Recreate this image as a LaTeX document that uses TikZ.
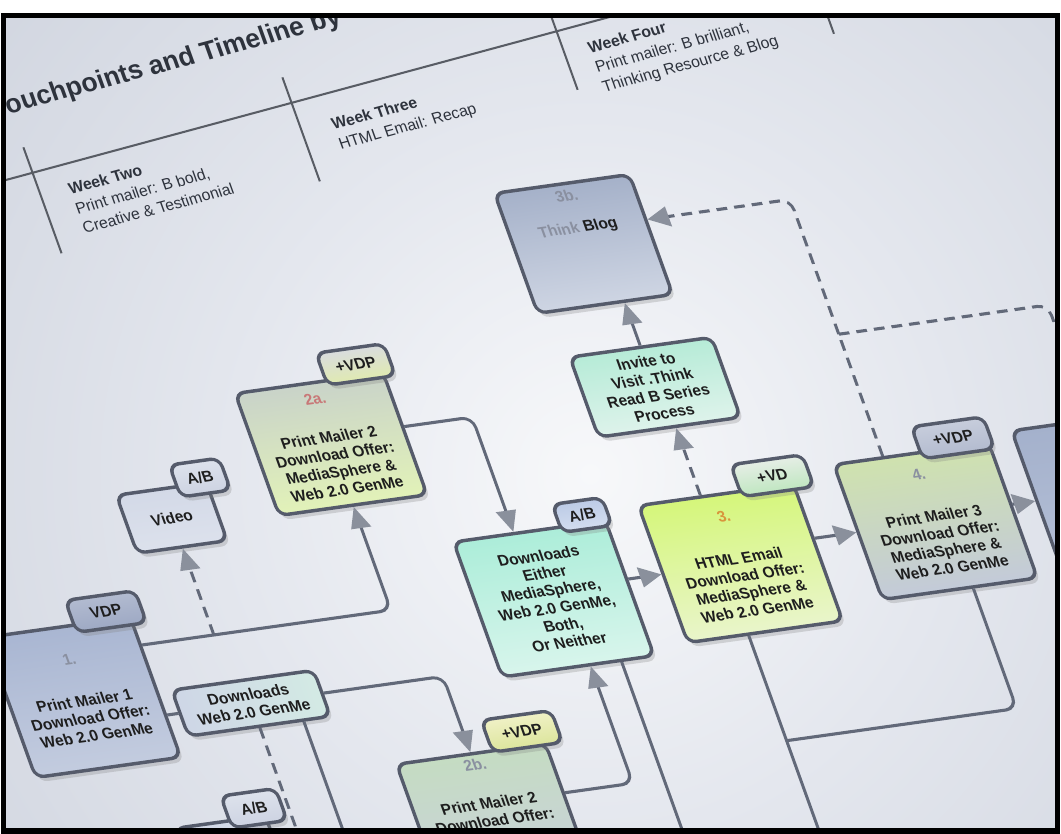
\documentclass[tikz,border=0pt]{standalone}
\usepackage{fontspec}
\setmainfont{Liberation Sans}
\usetikzlibrary{arrows.meta,shadows,calc}

\definecolor{paperA}{HTML}{F7F8FA}
\definecolor{paperB}{HTML}{E4E7EE}
\definecolor{paperC}{HTML}{CCD1DC}
\definecolor{paperD}{HTML}{B9C0D1}
\definecolor{paperE}{HTML}{A4ADC3}
\definecolor{ink}{HTML}{1E1E1E}
\definecolor{weekink}{HTML}{2E333D}
\definecolor{cardline}{HTML}{555B6B}
\definecolor{wire}{HTML}{626979}
\definecolor{tip}{HTML}{8A909C}
\definecolor{numgray}{HTML}{8A90A0}
\definecolor{numred}{HTML}{C87878}
\definecolor{numorange}{HTML}{D8963C}
% card fills
\definecolor{pmOneTop}{HTML}{A9B6D2}
\definecolor{pmOneBot}{HTML}{C3CCDF}
\definecolor{vdpOneTop}{HTML}{B2BBD0}
\definecolor{vdpOneBot}{HTML}{9EA9C4}
\definecolor{videoTop}{HTML}{D3D9E7}
\definecolor{videoBot}{HTML}{DCE1EC}
\definecolor{abTop}{HTML}{DDE2EC}
\definecolor{abBot}{HTML}{CDD3E2}
\definecolor{genLeft}{HTML}{CED6E6}
\definecolor{genRight}{HTML}{D3EAE4}
\definecolor{twoATop}{HTML}{C9D3C9}
\definecolor{twoAMid}{HTML}{D8F09C}
\definecolor{twoABot}{HTML}{E2F2B8}
\definecolor{vdpTwoATop}{HTML}{D9DCDF}
\definecolor{vdpTwoABot}{HTML}{E0EAB0}
\definecolor{eitherTop}{HTML}{ACEDD9}
\definecolor{eitherBot}{HTML}{D8F5EC}
\definecolor{abEitherTop}{HTML}{BCCBE6}
\definecolor{abEitherBot}{HTML}{D3DDEF}
\definecolor{emailTop}{HTML}{D5F67A}
\definecolor{emailBot}{HTML}{E9F5CB}
\definecolor{vdTop}{HTML}{E6EEE6}
\definecolor{vdBot}{HTML}{BFE6C0}
\definecolor{threeTop}{HTML}{CFE2AE}
\definecolor{threeBot}{HTML}{C3CAD9}
\definecolor{vdpThreeTop}{HTML}{C7CDDC}
\definecolor{vdpThreeBot}{HTML}{B3BBCF}
\definecolor{inviteTop}{HTML}{B6EBD7}
\definecolor{inviteBot}{HTML}{DEF3EB}
\definecolor{blogTop}{HTML}{A5B1C9}
\definecolor{blogBot}{HTML}{CED5E3}
\definecolor{farTop}{HTML}{A4B1CC}
\definecolor{farBot}{HTML}{B4BFD6}
\definecolor{twoBTop}{HTML}{C5DCC2}
\definecolor{twoBBot}{HTML}{C9D0DE}
\definecolor{vdpTwoBTop}{HTML}{F0F1C6}
\definecolor{vdpTwoBBot}{HTML}{DCE59C}

\pgfdeclareradialshading{paperglow}{\pgfpointorigin}{color(0bp)=(paperA); color(9bp)=(paperB); color(22bp)=(paperC); color(34bp)=(paperD); color(50bp)=(paperE)}

\tikzset{
  card/.style={draw=cardline, line width=0.95pt, rounded corners=2.5pt, align=center,
    minimum width=1.5cm, minimum height=1.35cm, inner sep=1pt, text=ink,
    font=\bfseries\fontsize{4.3}{4.9}\selectfont,
    drop shadow={opacity=0.28, shadow xshift=0.5pt, shadow yshift=-1.4pt}},
  tab/.style={card, minimum width=0.7cm, minimum height=0.32cm},
  link/.style={draw=wire, line width=0.85pt, rounded corners=3pt},
  flow/.style={link, -{Triangle[length=6pt, width=5.5pt, fill=tip, color=tip]}},
  dashlink/.style={link, dash pattern=on 3pt off 2pt},
  dashflow/.style={flow, dash pattern=on 3pt off 2pt},
  tline/.style={draw=weekink!80, line width=0.55pt},
  headline/.style={inner sep=0pt, text=weekink, font=\bfseries\fontsize{7.2}{8}\selectfont},
  weeknote/.style={anchor=north west, align=left, inner sep=0pt, text=weekink,
    font=\fontsize{4.3}{5.6}\selectfont}
}

\begin{document}
\begin{tikzpicture}
\useasboundingbox (0,0) rectangle (10.61,8.34);
\fill[white] (0,0) rectangle (10.61,8.34);

\begin{scope}
\clip (0.06,0.05) rectangle (10.55,8.16);
\shade[shading=paperglow] (5.9,3.6) circle (10cm);

% timeline across the top
\begin{scope}[transform canvas={cm={1,0.27,-0.36,1,(0,8.34)}}]
  \draw[tline] (-1,-1.655) -- (10,-1.655);
  \foreach \xx/\ya/\yb in {-0.27/1.40/2.46, 2.32/1.40/2.44, 4.97/1.25/2.24, 7.49/1.40/2.36}
    \draw[tline] (\xx,-\ya) -- (\xx,-\yb);
  \node[headline, anchor=base west] (title) at (-0.44,-1.06) {Touchpoints and Timeline by};
  \node[weeknote] (weekTwo) at (0.0,-1.83) {\textbf{Week Two}\\Print mailer: B bold,\\Creative \& Testimonial};
  \node[weeknote] (weekThree) at (2.61,-1.89) {\textbf{Week Three}\\HTML Email: Recap};
  \node[weeknote] (weekFour) at (5.2,-1.82) {\textbf{Week Four}\\Print mailer: B brilliant,\\Thinking Resource \& Blog};
\end{scope}

% touchpoint flow
\begin{scope}[transform canvas={cm={1,0.14,-0.36,1,(0,8.34)}}]
  \node[card, minimum width=1.45cm, minimum height=1.4cm, top color=pmOneTop, bottom color=pmOneBot] (pmOne) at (-1.6,-6.75)
    {{\color{numgray}1.}\\[7pt]Print Mailer 1\\Download Offer:\\Web 2.0 GenMe};
  \node[card, minimum width=1.42cm, minimum height=0.46cm, left color=genLeft, right color=genRight] (dlGenMe) at (-0.02,-7.03)
    {Downloads\\Web 2.0 GenMe};
  \node[card, minimum width=0.9cm, minimum height=0.58cm, top color=videoTop, bottom color=videoBot] (video) at (-0.14,-5.16) {Video};
  \node[card, minimum width=1.48cm, minimum height=1.22cm, top color=twoATop, middle color=twoAMid, bottom color=twoABot] (pmTwoA) at (1.63,-4.67)
    {{\color{numred}2a.}\\[6pt]Print Mailer 2\\Download Offer:\\MediaSphere \&\\Web 2.0 GenMe};
  \node[card, minimum width=1.52cm, top color=eitherTop, bottom color=eitherBot] (dlEither) at (3.22,-6.44)
    {Downloads\\Either\\MediaSphere,\\Web 2.0 GenMe,\\Both,\\Or Neither};
  \node[card, minimum width=1.55cm, minimum height=1.37cm, top color=emailTop, bottom color=emailBot] (htmlEmail) at (5.12,-6.35)
    {{\color{numorange}3.}\\[7pt]HTML Email\\Download Offer:\\MediaSphere \&\\Web 2.0 GenMe};
  \node[card, minimum width=1.55cm, top color=threeTop, bottom color=threeBot] (pmThree) at (7.12,-6.21)
    {{\color{numgray}4.}\\[7pt]Print Mailer 3\\Download Offer:\\MediaSphere \&\\Web 2.0 GenMe};
  \node[card, minimum width=1.42cm, minimum height=0.8cm, top color=inviteTop, bottom color=inviteBot] (invite) at (4.91,-4.56)
    {Invite to\\Visit .Think\\Read B Series\\Process};
  \node[card, minimum width=1.35cm, minimum height=1.2cm, top color=blogTop, bottom color=blogBot] (blog) at (4.72,-3.1)
    {{\color{numgray}3b.}\\[4pt]{\color{numgray}Think} Blog\\[12pt]\strut};
  \node[card, minimum width=1.55cm, minimum height=1.4cm, top color=farTop, bottom color=farBot] (farBox) at (8.93,-6.15) {};
  \node[card, minimum width=1.49cm, top color=twoBTop, bottom color=twoBBot] (pmTwoB) at (1.9,-8.48)
    {{\color{numgray}2b.}\\[6pt]Print Mailer 2\\Download Offer:\\[10pt]\strut};
  \node[card, minimum width=0.9cm, minimum height=0.58cm, top color=videoTop, bottom color=videoBot] (abBox) at (-0.72,-8.41) {};

  % tabs on the cards
  \node[tab, top color=vdpOneTop, bottom color=vdpOneBot] (vdpOne) at ([shift={(-0.23,0.07)}]pmOne.north east) {VDP};
  \node[tab, minimum width=0.5cm, top color=abTop, bottom color=abBot] (abVideo) at ([shift={(-0.06,0.04)}]video.north east) {A/B};
  \node[tab, minimum width=0.68cm, top color=vdpTwoATop, bottom color=vdpTwoABot] (vdpTwoA) at ([shift={(-0.25,0.1)}]pmTwoA.north east) {+VDP};
  \node[tab, minimum width=0.5cm, minimum height=0.28cm, top color=abEitherTop, bottom color=abEitherBot] (abEither) at ([shift={(-0.22,0.07)}]dlEither.north east) {A/B};
  \node[tab, minimum width=0.72cm, top color=vdTop, bottom color=vdBot] (vdEmail) at ([shift={(-0.19,0.09)}]htmlEmail.north east) {+VD};
  \node[tab, minimum width=0.72cm, top color=vdpThreeTop, bottom color=vdpThreeBot] (vdpThree) at ([shift={(-0.34,0.08)}]pmThree.north east) {+VDP};
  \node[tab, top color=vdpTwoBTop, bottom color=vdpTwoBBot] (vdpTwoB) at ([shift={(-0.2,0.13)}]pmTwoB.north east) {+VDP};
  \node[tab, minimum width=0.55cm, top color=abTop, bottom color=abBot] (abLow) at ([shift={(-0.1,0.07)}]abBox.north east) {A/B};

  \coordinate (rowA) at (0,-6.33);
  \coordinate (rowB) at (0,-4.6);
  \coordinate (rowC) at (0,-8.3);
  \coordinate (rowD) at (0,-8.1);
  \coordinate (colA) at (3.34,0);
  \coordinate (colB) at (7.25,0);
  \coordinate (colC) at (0.42,0);
  \coordinate (heTop) at (4.97,0);
  \coordinate (dashJoin) at (6.84,-4.3);
  \coordinate (dlDown) at (3.65,-9.7);
  \coordinate (heDown) at (4.95,-9.7);
  \coordinate (genDown) at (0.42,-9.7);

  \draw[flow] (pmOne.east |- rowA) -| (pmTwoA.south);
  \draw[dashflow] (video.south |- rowA) -- (video.south);
  \draw[link] (pmOne.east |- dlGenMe.west) -- (dlGenMe.west);
  \draw[flow] (dlGenMe.east) -| (pmTwoB.north);
  \draw[flow] (pmTwoA.east |- rowB) -| ($(dlEither.north west)!0.4!(dlEither.north east)$);
  \draw[flow] (dlEither.east |- htmlEmail.west) -- (htmlEmail.west);
  \draw[flow] (htmlEmail.east |- pmThree.west) -- (pmThree.west);
  \draw[flow] (pmThree.east |- farBox.west) -- (farBox.west);
  \draw[dashflow] (heTop |- htmlEmail.north) -- (heTop |- invite.south);
  \draw[flow] (invite.north) -- (invite.north |- blog.south);
  \draw[dashlink] (dashJoin |- pmThree.north) -- (dashJoin);
  \draw[dashflow] (dashJoin) |- ($(blog.north east)!0.38!(blog.south east)$);
  \draw[dashflow] (dashJoin) -| (farBox.north);
  \draw[flow] (pmTwoB.east |- rowC) -| (colA |- dlEither.south);
  \draw[link] (dlDown |- dlEither.south) -- (dlDown);
  \draw[flow] (heDown |- htmlEmail.south) -- (heDown);
  \draw[link] (colB |- pmThree.south) |- (heDown |- rowD);
  \draw[link] (colC |- dlGenMe.south) -- (genDown);
  \draw[dashflow] (dlGenMe.south) |- (abBox.east);
\end{scope}
\end{scope}

\draw[line width=0.055cm] (0.035,0.03) rectangle (10.575,8.185);
\end{tikzpicture}
\end{document}
